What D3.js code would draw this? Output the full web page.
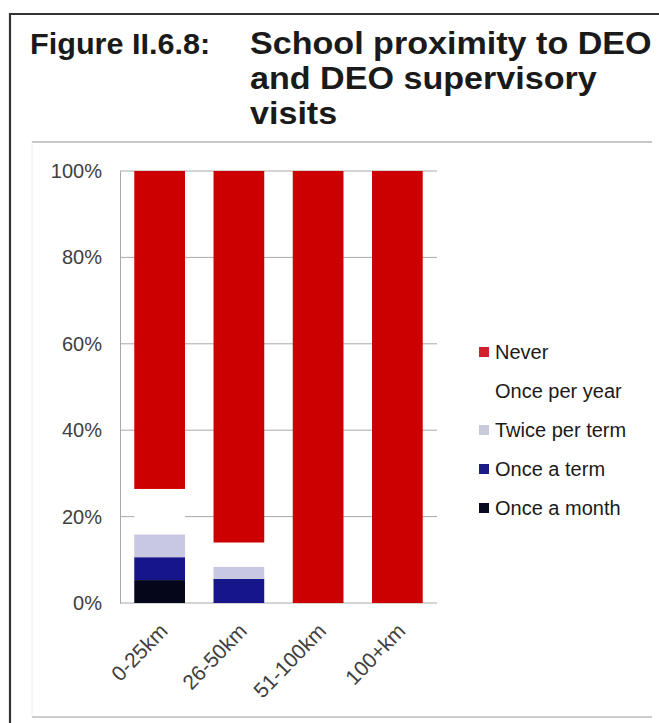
<!DOCTYPE html>
<html>
<head>
<meta charset="utf-8">
<script src="https://cdn.jsdelivr.net/npm/d3@7"></script>
<style>
  html, body { margin: 0; padding: 0; background: #fff; }
  svg { display: block; }
  text { font-family: "Liberation Sans", Arial, sans-serif; }
</style>
</head>
<body>
<svg id="chart" width="659" height="723"></svg>
<script>
// ---- data ----
const categories = ["0-25km", "26-50km", "51-100km", "100+km"];
const seriesNames = ["Once a month", "Once a term", "Twice per term", "Once per year", "Never"];
const onceAMonth   = [5.3, 0, 0, 0];
const onceATerm    = [5.3, 5.6, 0, 0];
const twicePerTerm = [5.3, 2.8, 0, 0];
const oncePerYear  = [10.5, 5.6, 0, 0];
const never        = [73.6, 86.0, 100, 100];
const yTicks = [0, 20, 40, 60, 80, 100];
const titleLeft = "Figure II.6.8:";
const titleLines = ["School proximity to DEO", "and DEO supervisory", "visits"];

const seriesValues = [onceAMonth, onceATerm, twicePerTerm, oncePerYear, never];
const colors = ["#06061a", "#16168a", "#c8c8e2", "#ffffff", "#cc0000"];
const legendColors = ["#0a0a20", "#1c1c86", "#c9c9dc", "#ffffff", "#d0202c"];

const svg = d3.select("#chart");

// outer frame
svg.append("line").attr("x1", 10).attr("x2", 659).attr("y1", 14).attr("y2", 14)
  .attr("stroke", "#333").attr("stroke-width", 2);
svg.append("line").attr("x1", 10).attr("x2", 10).attr("y1", 13).attr("y2", 723)
  .attr("stroke", "#333").attr("stroke-width", 2.2);

// inner panel
svg.append("line").attr("x1", 32).attr("x2", 652).attr("y1", 142).attr("y2", 142)
  .attr("stroke", "#b4b4b4").attr("stroke-width", 1.5);
svg.append("line").attr("x1", 32).attr("x2", 652).attr("y1", 717).attr("y2", 717)
  .attr("stroke", "#bdbdbd").attr("stroke-width", 1.5);
svg.append("line").attr("x1", 32).attr("x2", 32).attr("y1", 142).attr("y2", 717)
  .attr("stroke", "#ececec").attr("stroke-width", 1);

// title
svg.append("text").attr("transform", "translate(30,54) scale(1.02,1)").text(titleLeft)
  .attr("font-size", 30).attr("font-weight", "bold").attr("fill", "#1a1a1a");
titleLines.forEach((t, i) => {
  svg.append("text").attr("transform", `translate(250,${54 + i * 35}) scale(1.1,1)`).text(t)
    .attr("font-size", 31).attr("font-weight", "bold").attr("fill", "#1a1a1a");
});

// scales
const x = d3.scaleBand().domain(categories).range([120, 437])
  .paddingInner(0.36).paddingOuter(0.18);
const y = d3.scaleLinear().domain([0, 100]).range([603, 171]);

// gridlines
svg.append("g").selectAll("line").data(yTicks).join("line")
  .attr("x1", 120).attr("x2", 437)
  .attr("y1", d => y(d)).attr("y2", d => y(d))
  .attr("stroke", "#a8a8a8").attr("stroke-width", 1);

// y axis
const yAxis = svg.append("g").attr("transform", "translate(120,0)")
  .call(d3.axisLeft(y).tickValues(yTicks).tickSize(0).tickPadding(18).tickFormat(d => d + "%"));
yAxis.select(".domain").attr("stroke", "#a8a8a8");
yAxis.selectAll("text").attr("font-size", 20).attr("fill", "#404040")
  .attr("font-family", "Liberation Sans, Arial, sans-serif");

// stacked bars
const table = categories.map((c, i) => {
  const o = { cat: c };
  seriesNames.forEach((s, k) => o[s] = seriesValues[k][i]);
  return o;
});
const stack = d3.stack().keys(seriesNames)(table);
svg.append("g").selectAll("g").data(stack).join("g")
  .attr("fill", (d, i) => colors[i])
  .selectAll("rect").data(d => d).join("rect")
  .attr("x", d => x(d.data.cat))
  .attr("width", x.bandwidth())
  .attr("y", d => y(d[1]))
  .attr("height", d => y(d[0]) - y(d[1]));

// x labels
const xAxis = svg.append("g").attr("transform", "translate(0,603)")
  .call(d3.axisBottom(x).tickSize(0).tickPadding(0));
xAxis.select(".domain").remove();
xAxis.selectAll("text")
  .attr("font-size", 21).attr("fill", "#404040")
  .attr("font-family", "Liberation Sans, Arial, sans-serif")
  .attr("text-anchor", "end")
  .attr("dy", "0.35em")
  .attr("transform", "translate(4,24) rotate(-46)");

// legend
const legendOrder = seriesNames.map((s, i) => i).reverse();
const lg = svg.append("g").selectAll("g").data(legendOrder).join("g")
  .attr("transform", (d, i) => `translate(479, ${352 + i * 39})`);
lg.append("rect").attr("x", 0).attr("y", -5).attr("width", 10).attr("height", 10)
  .attr("fill", d => legendColors[d]);
lg.append("text").attr("x", 16).attr("y", 0).attr("dy", "0.35em")
  .attr("font-size", 20).attr("fill", "#1a1a1a")
  .text(d => seriesNames[d]);
</script>
</body>
</html>
